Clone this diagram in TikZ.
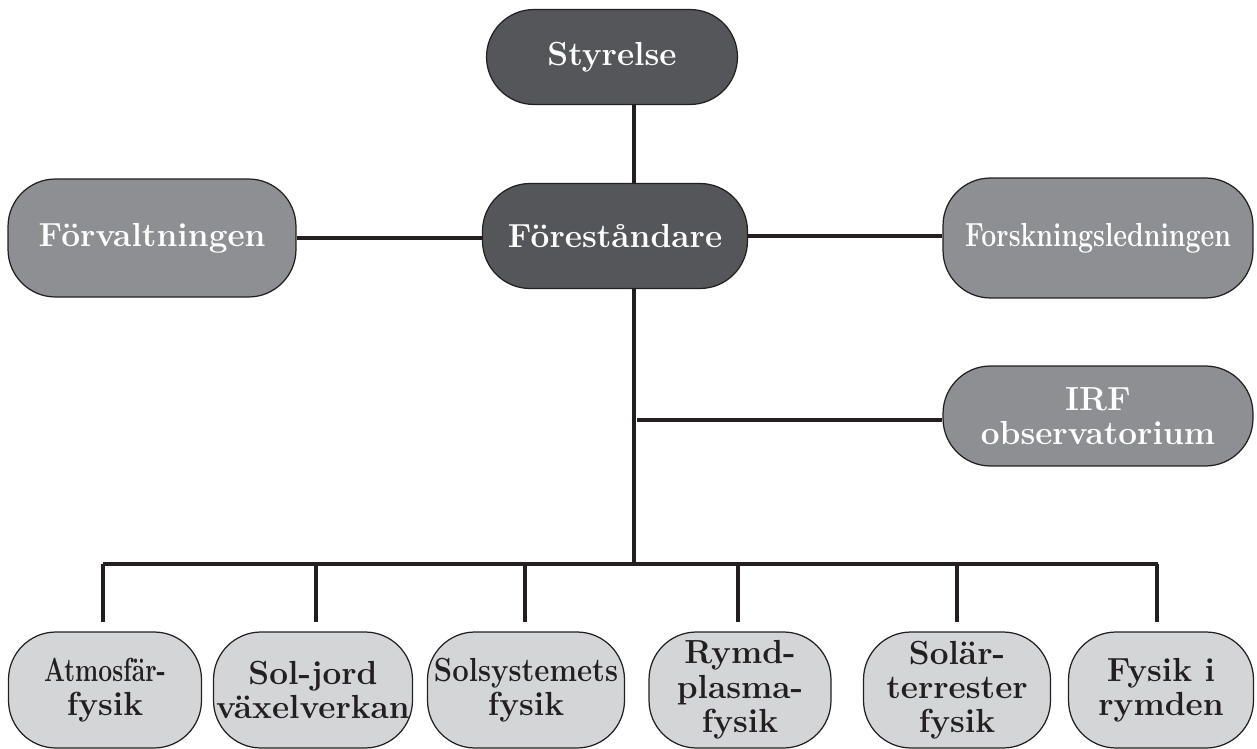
\documentclass[tikz,border=0pt]{standalone}
\usepackage{fontspec}
\usepackage{graphicx}
\usepackage{tikz}
\usetikzlibrary{calc}
\definecolor{darkbox}{HTML}{55565A}
\definecolor{midbox}{HTML}{8E8F93}
\definecolor{lightbox}{HTML}{D4D5D7}
\definecolor{lineblk}{HTML}{231F20}
\tikzstyle{box}=[draw=lineblk, line width=0.7pt, rounded corners=0.95cm,% big round ends
align=center, inner sep=0pt, font=\fontsize{19}{19.5}\selectfont\bfseries]
\tikzstyle{dbox}=[box, fill=darkbox, text=white]
\tikzstyle{mbox}=[box, fill=midbox, text=white]
\tikzstyle{lbox}=[box, fill=lightbox, text=lineblk]
\tikzstyle{conn}=[draw=lineblk, line width=2.1pt]
\begin{document}
\begin{tikzpicture}[x=0.02cm, y=-0.02cm]
\useasboundingbox (0,0) rectangle (1257,749);
% top part
\node[dbox, minimum width=5.02cm, minimum height=1.9cm] (sty) at (612,57) {Styrelse};
\node[dbox, minimum width=5.3cm, minimum height=2.1cm] (fore) at (615,236) {Föreståndare};
\node[mbox, minimum width=5.76cm, minimum height=2.36cm] (forv) at (152,238) {Förvaltningen};
\node[mbox, minimum width=6.2cm, minimum height=2.4cm] (forsk) at (1098,238) {\scalebox{0.8}[1]{Forskningsledningen}};
\node[mbox, minimum width=6.2cm, minimum height=2cm] (irf) at (1098,416) {IRF\\observatorium};
% departments
\node[lbox, minimum width=3.86cm, minimum height=2.32cm] (atm) at (105,690) {\scalebox{0.74}[1]{Atmosfär-}\\fysik};
\node[lbox, minimum width=3.98cm, minimum height=2.32cm] (sol) at (313,690) {Sol-jord\\växelverkan};
\node[lbox, minimum width=3.94cm, minimum height=2.32cm] (sys) at (526,690) {\scalebox{0.88}[1]{Solsystemets}\\fysik};
\node[lbox, minimum width=3.64cm, minimum height=2.32cm] (rym) at (740,690) {Rymd-\\plasma-\\fysik};
\node[lbox, minimum width=3.74cm, minimum height=2.32cm] (slt) at (957,690) {Solär-\\terrester\\fysik};
\node[lbox, minimum width=3.7cm, minimum height=2.32cm] (fys) at (1161,690) {Fysik i\\rymden};
\coordinate (tx) at (634,0);
\coordinate (bus) at (634,564);
\draw[conn] (sty.south -| tx) -- (fore.north -| tx);
\draw[conn] (forv.east) -- (forv.east -| fore.west);
\draw[conn] (fore.east) -- (fore.east -| forsk.west);
\draw[conn] (fore.south -| tx) -- (bus);
\draw[conn] ($(irf.west -| tx)+(3,4)$) -- ($(irf.west)+(0,4)$);
\draw[conn] ($(atm.north |- bus)+(-2.5,0)$) -- ($(fys.north |- bus)+(-3,0)$);
\foreach \b/\dx in {atm/-2,sol/3,sys/-1,rym/-2,slt/0,fys/-4}
  \draw[conn] ($(\b.north |- bus)+(\dx,0)$) -- ($(\b.north)+(\dx,-9)$);
\end{tikzpicture}
\end{document}
